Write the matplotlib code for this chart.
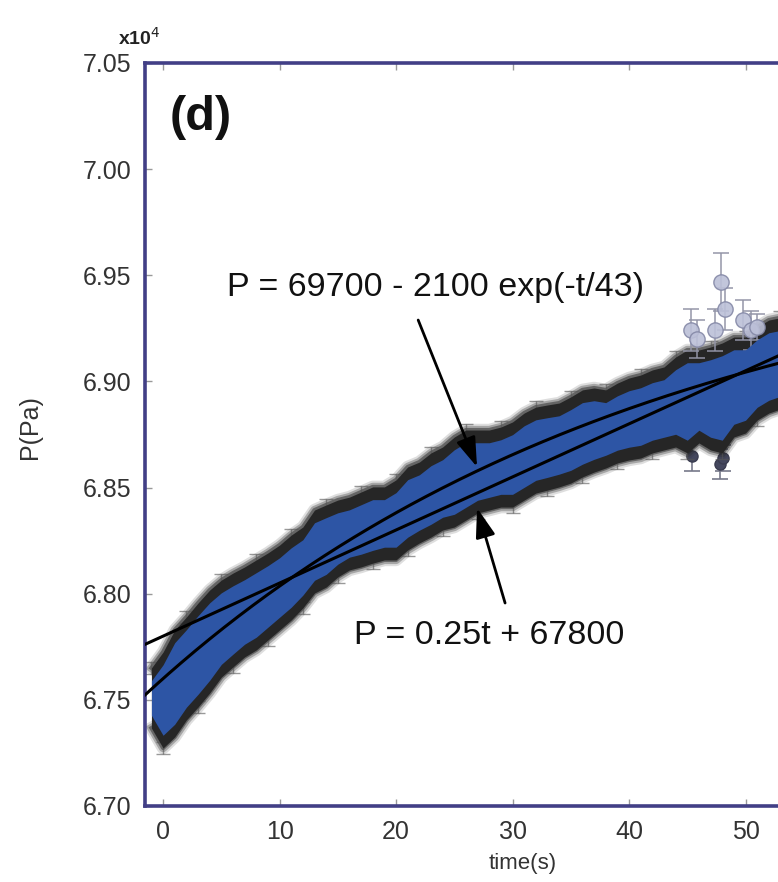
import matplotlib
matplotlib.use('Agg')
import matplotlib.pyplot as plt
import numpy as np
from matplotlib import rcParams

rcParams['font.family'] = ['Liberation Sans', 'DejaVu Sans']

TIME_S = list(range(-1, 55))
BAND_HIGH = [67650, 67725, 67829, 67890, 67956, 68017, 68064, 68097, 68126, 68159,
             68192, 68229, 68276, 68314, 68394, 68418, 68441, 68455, 68479, 68503,
             68503, 68536, 68597, 68620, 68663, 68691, 68738, 68771, 68771, 68771,
             68785, 68809, 68851, 68879, 68889, 68898, 68927, 68960, 68969, 68960,
             68992, 69016, 69030, 69054, 69068, 69115, 69148, 69148, 69162, 69181,
             69209, 69209, 69256, 69289, 69300, 69320]
BAND_LOW = [67367, 67273, 67325, 67405, 67466, 67532, 67607, 67655, 67702, 67735,
            67782, 67829, 67876, 67933, 68003, 68031, 68079, 68112, 68126, 68144,
            68159, 68159, 68206, 68239, 68267, 68300, 68314, 68347, 68380, 68394,
            68408, 68408, 68441, 68474, 68488, 68503, 68521, 68550, 68573, 68592,
            68616, 68630, 68639, 68663, 68677, 68691, 68663, 68710, 68677, 68663,
            68738, 68757, 68818, 68851, 68870, 68890]

# scattered points near the end of the run
OUT_T = [45.3, 45.8, 47.4, 47.9, 48.2, 49.8, 50.5, 51.0]
OUT_P = [69242, 69200, 69242, 69468, 69340, 69289, 69240, 69256]
OUT_ERR = [100, 90, 100, 135, 100, 95, 90, 60]
LOW_T = [45.4, 47.8, 48.1]
LOW_P = [68650, 68610, 68640]
LOW_ERR = [70, 70, 60]

# fits
EXP_A, EXP_B, EXP_TAU = 69700, 2100, 43
LIN_P0, LIN_SLOPE = 67800, 25.0

Y_TICKS = [67000, 67500, 68000, 68500, 69000, 69500, 70000, 70500]
X_TICKS = [0, 10, 20, 30, 40, 50]

SPINE = '#423f86'
BLUE = '#2d55a5'
DARK = '#262626'
FRINGE = 60

fig = plt.figure(figsize=(7.78, 8.82), dpi=100)
ax = fig.add_axes([0.1864, 0.0862, 0.9216, 0.8424])

# soft dark halo round the band, then the band, then the blue core
for lw, alpha in [(9, 0.15), (6, 0.3), (3, 0.5)]:
    ax.plot(TIME_S, BAND_HIGH, color=DARK, lw=lw, alpha=alpha, zorder=1.8,
            solid_joinstyle='round')
    ax.plot(TIME_S, BAND_LOW, color=DARK, lw=lw, alpha=alpha, zorder=1.8,
            solid_joinstyle='round')
ax.fill_between(TIME_S, BAND_LOW, BAND_HIGH, color=DARK, lw=0, zorder=2)
low_in = [v + FRINGE for v in BAND_LOW]
high_in = [v - FRINGE for v in BAND_HIGH]
ax.fill_between(TIME_S, low_in, high_in, color=BLUE, lw=0, zorder=3)
ax.errorbar(TIME_S[::3], BAND_HIGH[::3], yerr=30, fmt='none', ecolor='#555555',
            alpha=0.6, capsize=5, elinewidth=1, capthick=1, zorder=1.9)
ax.errorbar(TIME_S[1::3], BAND_LOW[1::3], yerr=30, fmt='none', ecolor='#555555',
            alpha=0.6, capsize=5, elinewidth=1, capthick=1, zorder=1.9)

ax.errorbar(OUT_T, OUT_P, yerr=OUT_ERR, fmt='o', ms=11, mfc='#bcc0d8', mec='#8488a6',
            ecolor='#9294a6', capsize=6, elinewidth=1.2, capthick=1.2, alpha=0.9,
            zorder=2.5)
ax.errorbar(LOW_T, LOW_P, yerr=LOW_ERR, fmt='o', ms=8, mfc='#44475e', mec='#3a3c50',
            ecolor='#77798a', capsize=6, elinewidth=1.2, capthick=1.2, zorder=1.5)

t_fit = np.linspace(-1.55, 60, 300)
ax.plot(t_fit, EXP_A - EXP_B * np.exp(-t_fit / EXP_TAU), color='black', lw=2.2, zorder=5)
ax.plot(t_fit, LIN_P0 + LIN_SLOPE * t_fit, color='black', lw=2.2, zorder=5)

ax.set_xlim(-1.55, 60)
ax.set_ylim(67000, 70500)
ax.set_xticks(X_TICKS)
ax.set_yticks(Y_TICKS)
ax.set_yticklabels([f'{v / 1e4:.2f}' for v in Y_TICKS])

for s in ax.spines.values():
    s.set_color(SPINE)
    s.set_linewidth(2.6)
ax.tick_params(direction='in', length=5, width=1, color='#999999', labelsize=18,
               labelcolor='#333333', pad=10, top=True, right=True)

# annotations
ax.text(23.4, 69440, 'P = 69700 - 2100 exp(-t/43)', ha='center', va='center',
        fontsize=24.5, color='#111111', zorder=6)
ax.text(28.0, 67805, 'P = 0.25t + 67800', ha='center', va='center',
        fontsize=24.5, color='#111111', zorder=6)
arrow = dict(arrowstyle='-|>,head_length=0.9,head_width=0.3', color='black', lw=2,
             shrinkA=0, shrinkB=0, mutation_scale=20)
ax.annotate('', xy=(26.95, 68597), xytext=(21.9, 69289), arrowprops=arrow, zorder=6)
ax.annotate('', xy=(26.95, 68404), xytext=(29.36, 67956), arrowprops=arrow, zorder=6)

fig.text(201 / 778, 1 - 117 / 882, '(d)', fontsize=35, weight='bold',
         ha='center', va='center', color='#111111')
fig.text(118 / 778, 1 - 45 / 882, r'x10$^4$', fontsize=14, weight='bold',
         ha='left', va='baseline', color='#222222')
fig.text(30 / 778, 1 - 427 / 882, 'P(Pa)', fontsize=18, rotation=90,
         ha='center', va='center', color='#333333')
fig.text(523 / 778, 1 - 863 / 882, 'time(s)', fontsize=16,
         ha='center', va='center', color='#333333')

fig.savefig('out.png', dpi=100)
